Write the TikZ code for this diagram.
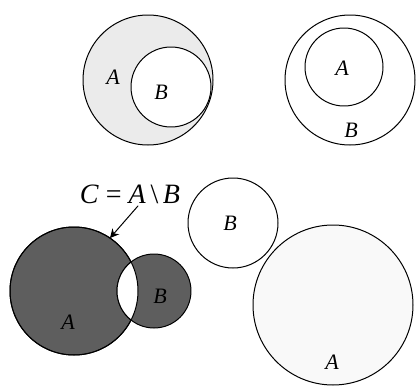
\documentclass[tikz,border=0pt]{standalone}
\usepackage{fontspec}
\setmainfont{Liberation Serif}
\usetikzlibrary{arrows.meta,calc}

\begin{document}
\begin{tikzpicture}[x=1pt, y=-1pt, line width=1pt, line cap=round, line join=round]
  % 标签样式
  \tikzset{setlbl/.style={anchor=center,inner sep=0pt,font=\fontsize{22}{26}\selectfont\itshape}}
  \definecolor{lightfill}{gray}{0.92}
  \definecolor{darkfill}{gray}{0.37}
  \definecolor{paleFill}{gray}{0.975}

  % ════ 左上：B ⊂ A，A 浅灰 ════
  \coordinate (ulA) at (148,80);
  \coordinate (ulB) at (171,87);
  \draw[fill=lightfill] (ulA) circle[radius=65];
  \draw[fill=white] (ulB) circle[radius=40];
  \node[setlbl] (ulAlbl) at (113,77) {A};
  \node[setlbl] (ulBlbl) at (161,92) {B};

  % ════ 右上：A ⊂ B ════
  \coordinate (urB) at (350,80);
  \coordinate (urA) at (344,67);
  \draw (urB) circle[radius=65];
  \draw (urA) circle[radius=39];
  \node[setlbl] (urAlbl) at (342,68) {A};
  \node[setlbl] (urBlbl) at (351,130) {B};

  % ════ 左下：A、B 相交，交集留白 ════
  \coordinate (llA) at (74,291);
  \coordinate (llB) at (154,291);
  \draw[fill=darkfill] (llA) circle[radius=64];
  \draw[fill=darkfill] (llB) circle[radius=37];
  \begin{scope}
    \clip (llA) circle[radius=64];
    \draw[fill=white] (llB) circle[radius=37];
  \end{scope}
  \draw (llA) circle[radius=64];
  \node[setlbl] (llAlbl) at (68,322) {A};
  \node[setlbl] (llBlbl) at (160,296) {B};

  % C 的标注箭头
  \node[anchor=center,inner sep=0pt,font=\fontsize{28}{32}\selectfont] (Clbl) at (130,194)
    {\textit{C} = \textit{A}\,\textbackslash\,\textit{B}};
  \coordinate (Ctip) at ($(llA)+(-55.8:64)$);
  \coordinate (Cfoot) at ($(Clbl.south)+(8,2)$);
  \draw[-{Stealth[width=9pt,length=9pt]}] (Cfoot) -- (Ctip);

  % ════ 右下：A、B 相切 ════
  \coordinate (lrB) at (233,223);
  \coordinate (lrA) at (333,305);
  \draw (lrB) circle[radius=45];
  \draw[fill=paleFill] (lrA) circle[radius=80];
  \node[setlbl] (lrBlbl) at (230,223) {B};
  \node[setlbl] (lrAlbl) at (332,362) {A};

  % 钉死画布
  \path[use as bounding box] (0,0) rectangle (416,383);
\end{tikzpicture}
\end{document}
